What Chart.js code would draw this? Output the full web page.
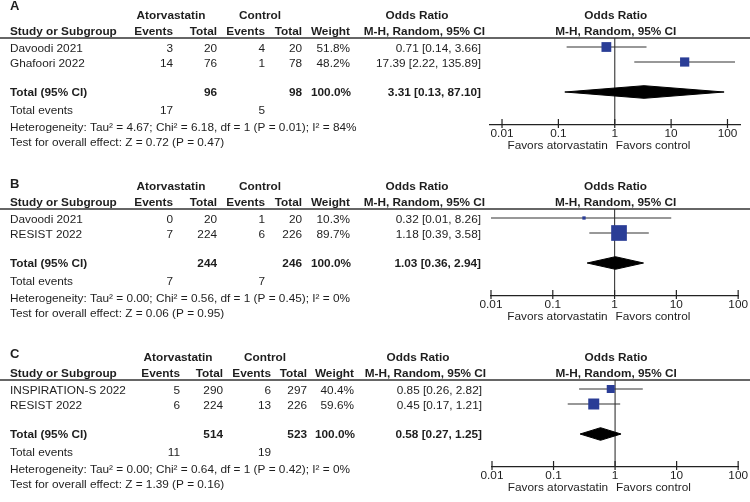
<!DOCTYPE html>
<html>
<head>
<meta charset="utf-8">
<script src="https://cdn.jsdelivr.net/npm/chart.js@4.4.1/dist/chart.umd.min.js"></script>
<style>
  body { margin: 0; background: #fff; }
  canvas { position: absolute; left: 0; }
</style>
</head>
<body>
<canvas id="panelA" width="750" height="160" style="top:0px"></canvas>
<canvas id="panelB" width="750" height="160" style="top:171px"></canvas>
<canvas id="panelC" width="750" height="160" style="top:342px"></canvas>
<script>
"use strict";

// ---- data ----
const studiesA = ["Davoodi 2021", "Ghafoori 2022"];
const atorEventsA = [3, 14];
const atorTotalA = [20, 76];
const ctrlEventsA = [4, 1];
const ctrlTotalA = [20, 78];
const weightA = [51.8, 48.2];
const orA = [0.71, 17.39];
const loA = [0.14, 2.22];
const hiA = [3.66, 135.89];
const sumTotalsA = [96, 98];
const sumEventsA = [17, 5];
const pooledA = [3.31, 0.13, 87.10];
const hetA = "Heterogeneity: Tau² = 4.67; Chi² = 6.18, df = 1 (P = 0.01); I² = 84%";
const testA = "Test for overall effect: Z = 0.72 (P = 0.47)";

const studiesB = ["Davoodi 2021", "RESIST 2022"];
const atorEventsB = [0, 7];
const atorTotalB = [20, 224];
const ctrlEventsB = [1, 6];
const ctrlTotalB = [20, 226];
const weightB = [10.3, 89.7];
const orB = [0.32, 1.18];
const loB = [0.01, 0.39];
const hiB = [8.26, 3.58];
const sumTotalsB = [244, 246];
const sumEventsB = [7, 7];
const pooledB = [1.03, 0.36, 2.94];
const hetB = "Heterogeneity: Tau² = 0.00; Chi² = 0.56, df = 1 (P = 0.45); I² = 0%";
const testB = "Test for overall effect: Z = 0.06 (P = 0.95)";

const studiesC = ["INSPIRATION-S 2022", "RESIST 2022"];
const atorEventsC = [5, 6];
const atorTotalC = [290, 224];
const ctrlEventsC = [6, 13];
const ctrlTotalC = [297, 226];
const weightC = [40.4, 59.6];
const orC = [0.85, 0.45];
const loC = [0.26, 0.17];
const hiC = [2.82, 1.21];
const sumTotalsC = [514, 523];
const sumEventsC = [11, 19];
const pooledC = [0.58, 0.27, 1.25];
const hetC = "Heterogeneity: Tau² = 0.00; Chi² = 0.64, df = 1 (P = 0.42); I² = 0%";
const testC = "Test for overall effect: Z = 1.39 (P = 0.16)";

const tickValues = [0.01, 0.1, 1, 10, 100];
const tickLabels = ["0.01", "0.1", "1", "10", "100"];

// ---- styling ----
const FONT = '"Liberation Sans", Arial, sans-serif';
const FS = 11.8;
const TXT = "#1e1e1e";
const BLUE = "#2a3d96";
const fmt = v => v.toFixed(2);
const ciText = (o, l, h) => fmt(o) + " [" + fmt(l) + ", " + fmt(h) + "]";

function makePanel(id, letter, letterY, d, cols, xr) {
  const totalRow = 4;

  const tablePlugin = {
    id: "table" + letter,
    beforeDatasetsDraw(chart) {
      const { ctx, chartArea, scales } = chart;
      const x1 = scales.x.getPixelForValue(1);
      ctx.save();
      ctx.strokeStyle = "#444";
      ctx.lineWidth = 1.2;
      ctx.beginPath();
      ctx.moveTo(x1, chartArea.top);
      ctx.lineTo(x1, chartArea.bottom);
      ctx.stroke();
      ctx.restore();
    },
    afterDraw(chart) {
      const { ctx, chartArea, scales } = chart;
      const y = scales.y;
      const xs = scales.x;
      const top = chartArea.top;
      ctx.save();
      ctx.fillStyle = TXT;
      ctx.textBaseline = "middle";

      const put = (t, x, yy, align, bold) => {
        ctx.font = (bold ? "bold " : "") + FS + "px " + FONT;
        ctx.textAlign = align;
        ctx.fillText(t, x, yy);
      };

      // panel letter
      ctx.font = 'bold 13px "Liberation Sans Narrow", ' + FONT;
      ctx.textAlign = "left";
      ctx.fillText(letter, 10, letterY);

      // header
      const h1 = top - 22, h2 = top - 6;
      put("Atorvastatin", cols.atorC, h1, "center", true);
      put("Control", cols.ctrlC, h1, "center", true);
      put("Odds Ratio", cols.orC, h1, "center", true);
      put("Study or Subgroup", 10, h2, "left", true);
      put("Events", cols.ev1, h2, "right", true);
      put("Total", cols.tot1, h2, "right", true);
      put("Events", cols.ev2, h2, "right", true);
      put("Total", cols.tot2, h2, "right", true);
      put("Weight", cols.w, h2, "right", true);
      put("M-H, Random, 95% CI", cols.ci + 4, h2, "right", true);
      const x1 = xs.getPixelForValue(1);
      put("Odds Ratio", x1 + 1, h1, "center", true);
      put("M-H, Random, 95% CI", x1 + 1, h2, "center", true);

      // header rule
      ctx.strokeStyle = "#333";
      ctx.lineWidth = 1.5;
      ctx.beginPath();
      ctx.moveTo(0, top);
      ctx.lineTo(750, top);
      ctx.stroke();

      // study rows
      d.studies.forEach((s, i) => {
        const yy = y.getPixelForValue(i + 1) + 1.5;
        put(s, 10, yy, "left", false);
        put(String(d.atorEvents[i]), cols.ev1, yy, "right", false);
        put(String(d.atorTotal[i]), cols.tot1, yy, "right", false);
        put(String(d.ctrlEvents[i]), cols.ev2, yy, "right", false);
        put(String(d.ctrlTotal[i]), cols.tot2, yy, "right", false);
        put(d.weight[i].toFixed(1) + "%", cols.w, yy, "right", false);
        put(ciText(d.or[i], d.lo[i], d.hi[i]), cols.ci, yy, "right", false);
      });

      // total row
      const ty = y.getPixelForValue(totalRow) + 1;
      put("Total (95% CI)", 10, ty, "left", true);
      put(String(d.sumTotals[0]), cols.tot1, ty, "right", true);
      put(String(d.sumTotals[1]), cols.tot2, ty, "right", true);
      put("100.0%", cols.w + 1, ty, "right", true);
      put(ciText(d.pooled[0], d.pooled[1], d.pooled[2]), cols.ci, ty, "right", true);

      const ey = ty + 18;
      put("Total events", 10, ey, "left", false);
      put(String(d.sumEvents[0]), cols.ev1, ey, "right", false);
      put(String(d.sumEvents[1]), cols.ev2, ey, "right", false);
      put(d.het, 10, ey + 16.5, "left", false);
      put(d.test, 10, ey + 32, "left", false);

      // axis tick marks
      const ab = chartArea.bottom;
      ctx.strokeStyle = "#222";
      ctx.lineWidth = 1.2;
      tickValues.forEach(v => {
        const px = xs.getPixelForValue(v);
        ctx.beginPath();
        ctx.moveTo(px, ab - 6);
        ctx.lineTo(px, ab + 3);
        ctx.stroke();
      });

      // favours labels
      put("Favors atorvastatin", x1 - 7, ab + 21, "right", false);
      put("Favors control", x1 + 1, ab + 21, "left", false);
      ctx.restore();
    }
  };

  const datasets = [
    {
      data: d.or.map((v, i) => ({ x: v, y: i + 1 })),
      pointStyle: "rect",
      pointRadius: d.weight.map(w => (1.7 + 0.156 * w) / Math.SQRT2),
      backgroundColor: BLUE,
      borderWidth: 0,
      clip: false
    },
    {
      data: [
        { x: d.pooled[1], y: totalRow },
        { x: d.pooled[0], y: totalRow - 0.42 },
        { x: d.pooled[2], y: totalRow },
        { x: d.pooled[0], y: totalRow + 0.42 },
        { x: d.pooled[1], y: totalRow }
      ],
      showLine: true,
      fill: "shape",
      backgroundColor: "#000",
      borderColor: "#000",
      borderWidth: 1,
      pointRadius: 0,
      clip: false
    }
  ];
  d.lo.forEach((l, i) => {
    datasets.push({
      data: [{ x: l, y: i + 1 }, { x: d.hi[i], y: i + 1 }],
      showLine: true,
      borderColor: "#333",
      borderWidth: 1.2,
      pointRadius: 0,
      clip: false
    });
  });

  new Chart(document.getElementById(id), {
    type: "scatter",
    data: { datasets },
    options: {
      responsive: false,
      animation: false,
      events: [],
      layout: { padding: { left: xr.left, right: xr.right, top: 38, bottom: 13 } },
      plugins: { legend: { display: false }, tooltip: { enabled: false } },
      scales: {
        x: {
          type: "logarithmic",
          min: xr.min,
          max: xr.max,
          afterBuildTicks: s => { s.ticks = tickValues.map(v => ({ value: v })); },
          afterFit: s => { s.height = 22; },
          ticks: {
            callback: (v) => tickLabels[tickValues.indexOf(v)],
            autoSkip: false,
            maxRotation: 0,
            padding: 2,
            color: TXT,
            font: { family: FONT, size: FS }
          },
          grid: { display: false, drawTicks: false },
          border: { display: true, color: "#222", width: 1.2 }
        },
        y: { display: false, reverse: true, min: 0.4, max: 6.2 }
      }
    },
    plugins: [tablePlugin]
  });
}

makePanel("panelA", "A", 6, {
  studies: studiesA, atorEvents: atorEventsA, atorTotal: atorTotalA,
  ctrlEvents: ctrlEventsA, ctrlTotal: ctrlTotalA, weight: weightA,
  or: orA, lo: loA, hi: hiA, sumTotals: sumTotalsA, sumEvents: sumEventsA,
  pooled: pooledA, het: hetA, test: testA
}, { atorC: 171, ctrlC: 260, orC: 417, ev1: 173, tot1: 217, ev2: 265, tot2: 302, w: 350, ci: 481 },
   { left: 490, right: 10, min: 0.00612, max: 166.7 });

makePanel("panelB", "B", 13, {
  studies: studiesB, atorEvents: atorEventsB, atorTotal: atorTotalB,
  ctrlEvents: ctrlEventsB, ctrlTotal: ctrlTotalB, weight: weightB,
  or: orB, lo: loB, hi: hiB, sumTotals: sumTotalsB, sumEvents: sumEventsB,
  pooled: pooledB, het: hetB, test: testB
}, { atorC: 171, ctrlC: 260, orC: 417, ev1: 173, tot1: 217, ev2: 265, tot2: 302, w: 350, ci: 481 },
   { left: 491, right: 11, min: 0.01, max: 100 });

makePanel("panelC", "C", 12, {
  studies: studiesC, atorEvents: atorEventsC, atorTotal: atorTotalC,
  ctrlEvents: ctrlEventsC, ctrlTotal: ctrlTotalC, weight: weightC,
  or: orC, lo: loC, hi: hiC, sumTotals: sumTotalsC, sumEvents: sumEventsC,
  pooled: pooledC, het: hetC, test: testC
}, { atorC: 178, ctrlC: 265, orC: 418, ev1: 180, tot1: 223, ev2: 271, tot2: 307, w: 354, ci: 482 },
   { left: 492, right: 11, min: 0.01, max: 100 });
</script>
</body>
</html>
